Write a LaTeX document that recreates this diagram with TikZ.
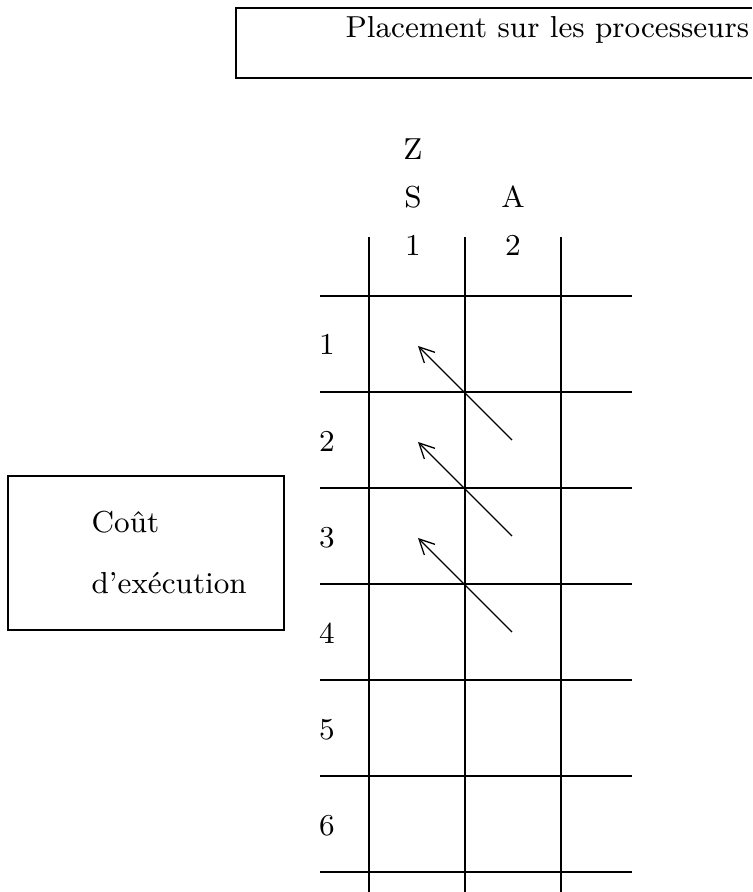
\documentclass[tikz,border=0pt]{standalone}
\usepackage{tikz}
\usetikzlibrary{arrows.meta}

\begin{document}
\begin{tikzpicture}[x=0.3pt, y=-0.3pt, line width=0.4pt,
  font=\fontsize{9.1}{11}\selectfont,
  lbl/.style={inner sep=0pt, anchor=base west},
  num/.style={inner sep=0pt, anchor=base},
  tip/.style={-{Straight Barb[length=4.5pt,width=4.5pt]}}]
  \useasboundingbox (0,0) rectangle (752,892);

  % placement box, open on the right
  \draw (752,8) -- (236,8) -- (236,78) -- (752,78);
  \node[lbl] (placement) at (345,38) {Placement sur les processeurs};

  % cost box
  \node[draw, minimum width=82.8pt, minimum height=46.2pt, inner sep=0pt] (cost) at (146,553) {};
  \node[lbl] (cout) at (91,532) {Coût};
  \node[lbl] (exec) at (91,593) {d'exécution};

  % column headers
  \node[num] (z) at (413,160) {Z};
  \node[num] (s) at (413,208) {S};
  \node[num] (a) at (513,208) {A};
  \node[num] (c1) at (413,256) {1};
  \node[num] (c2) at (513,256) {2};

  % grid
  \foreach \x in {369,465,561}
    \draw (\x,237) -- (\x,892);
  \foreach \y in {296,392,...,872}
    \draw (320,\y) -- (632,\y);
  \foreach \r in {1,...,6}
    \node[num] (row\r) at (327,{259+96*\r}) {\r};

  % moves
  \foreach \r in {1,2,3} {
    \coordinate (from\r) at (512,{344+96*\r});
    \coordinate (to\r) at (418,{250+96*\r});
    \draw[tip] (from\r) -- (to\r);
  }
\end{tikzpicture}
\end{document}
